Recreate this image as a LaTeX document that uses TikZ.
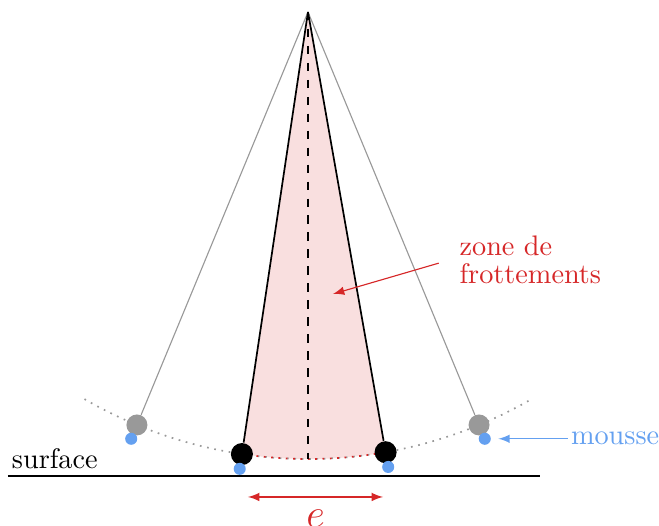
\documentclass[tikz,border=0pt]{standalone}
\usetikzlibrary{positioning}
\definecolor{zonered}{RGB}{214,39,40}
\definecolor{mousseblue}{RGB}{100,160,240}
\begin{document}
\begin{tikzpicture}[>=latex,
    ball/.style={circle, fill=black, inner sep=0pt, minimum size=0.274cm},
    oldball/.style={circle, fill=black!40, inner sep=0pt, minimum size=0.261cm},
    foam/.style={circle, fill=mousseblue, inner sep=0pt, minimum size=0.15cm}]
    \useasboundingbox (-3.830,-6.380) rectangle (4.365,0.149);
    \coordinate (O) at (0,0);

    % Friction zone
    \fill[zonered!15] (O) -- (261.5:5.559) arc (261.5:280:5.559) -- cycle;

    % Swing path
    \draw[dotted, black!40, semithick] (240:5.559) arc (240:300:5.559);
    \draw[dotted, zonered, semithick] (261.5:5.559) arc (261.5:280:5.559);

    % Surface
    \draw[semithick] (-3.731,-5.770) -- (2.885,-5.770);
    \node[anchor=south west, inner xsep=1.2pt, inner ysep=2.4pt] (surf) at (-3.731,-5.770) {surface};

    % Extreme positions
    \node[oldball] (gL) at (247.5:5.559) {};
    \node[oldball] (gR) at (292.5:5.559) {};
    \draw[black!40, thin] (O) -- (gL);
    \draw[black!40, thin] (O) -- (gR);

    % Contact positions
    \node[ball] (bL) at (261.5:5.559) {};
    \node[ball] (bR) at (280:5.559) {};
    \draw[semithick] (O) -- (bL);
    \draw[semithick] (O) -- (bR);

    % Vertical
    \draw[dashed, semithick] (O) -- (270:5.559);

    % Foam
    \node[foam] (fgL) at (247.5:5.745) {};
    \node[foam] (fgR) at (292.5:5.745) {};
    \node[foam] (fbL) at (261.5:5.745) {};
    \node[foam] (fbR) at (280:5.745) {};

    % Labels
    \node[zonered, align=left, anchor=west] (zone) at (1.761,-3.084) {zone de\\[-2pt]frottements};
    \coordinate (zonetip) at (0.311,-3.507);
    \draw[->, zonered, shorten <=4pt] (zone.west) -- (zonetip);

    \node[mousseblue, right=27pt of fgR, inner sep=1pt] (mousse) {mousse};
    \draw[->, mousseblue, shorten >=2.5pt] (mousse) -- (fgR);

    % Width e
    \coordinate (eL) at (-0.746,-6.031);
    \coordinate (eR) at (0.933,-6.031);
    \draw[<->, zonered] (eL) -- node[below, font=\Large, yshift=-1pt] {$e$} (eR);
\end{tikzpicture}
\end{document}
